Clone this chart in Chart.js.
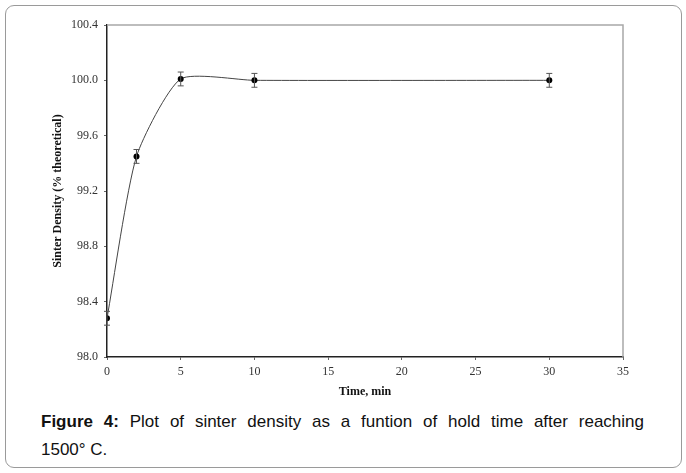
<!DOCTYPE html>
<html>
<head>
<meta charset="utf-8">
<script src="https://cdn.jsdelivr.net/npm/chart.js@4/dist/chart.umd.min.js"></script>
<style>
  body { margin: 0; background: #fff; width: 686px; height: 473px; overflow: hidden; position: relative; }
  #frame { position: absolute; left: 5px; top: 5px; width: 675px; height: 461px; border: 1px solid #9a9a9a; border-radius: 9px; }
  #wrap { position: absolute; left: 0; top: 0; width: 686px; height: 400px; }
  #caption { position: absolute; left: 41px; top: 408px; width: 603px; font-family: "Liberation Sans", Arial, sans-serif; font-size: 17px; line-height: 28px; color: #111; }
  #caption .l1 { text-align: justify; text-align-last: justify; }
</style>
</head>
<body>
<div id="frame"></div>
<div id="wrap"><canvas id="chart"></canvas></div>
<div id="caption">
  <div class="l1"><b>Figure 4:</b> Plot of sinter density as a funtion of hold time after reaching</div>
  <div>1500&deg; C.</div>
</div>
<script>
const holdTimes = [0, 2, 5, 10, 30];
const densities = [98.28, 99.45, 100.01, 100.0, 100.0];
const densityErrors = [0.05, 0.05, 0.05, 0.05, 0.05];
const yTicks = [98.0, 98.4, 98.8, 99.2, 99.6, 100.0, 100.4];

const serif = '"Liberation Serif", "Times New Roman", serif';

// error bars and the light top/right frame of the plot
const extras = {
    id: 'extras',
    afterDatasetsDraw(chart) {
        const ctx = chart.ctx;
        const x = chart.scales.x;
        const y = chart.scales.y;
        const area = chart.chartArea;
        ctx.save();
        ctx.strokeStyle = '#a8a8a8';
        ctx.lineWidth = 1.5;
        ctx.beginPath();
        ctx.moveTo(area.left, area.top);
        ctx.lineTo(area.right, area.top);
        ctx.lineTo(area.right, area.bottom);
        ctx.stroke();

        ctx.strokeStyle = '#555';
        ctx.lineWidth = 1;
        holdTimes.forEach((t, i) => {
            const px = x.getPixelForValue(t);
            const hi = y.getPixelForValue(densities[i] + densityErrors[i]);
            const lo = y.getPixelForValue(densities[i] - densityErrors[i]);
            ctx.beginPath();
            ctx.moveTo(px, hi); ctx.lineTo(px, lo);
            ctx.moveTo(px - 3, hi); ctx.lineTo(px + 3, hi);
            ctx.moveTo(px - 3, lo); ctx.lineTo(px + 3, lo);
            ctx.stroke();
        });
        ctx.restore();
    }
};

new Chart(document.getElementById('chart'), {
    type: 'line',
    data: {
        datasets: [{
            data: holdTimes.map((t, i) => ({ x: t, y: densities[i] })),
            borderColor: '#444',
            borderWidth: 1,
            tension: 0.2,
            pointRadius: 3,
            pointBackgroundColor: '#000',
            pointBorderColor: '#000',
            pointBorderWidth: 0,
            fill: false
        }]
    },
    options: {
        responsive: true,
        maintainAspectRatio: false,
        animation: false,
        layout: { padding: { left: 5, right: 63, top: 25, bottom: 0 } },
        plugins: { legend: { display: false }, tooltip: { enabled: false } },
        scales: {
            x: {
                type: 'linear',
                min: 0,
                max: 35,
                afterFit: s => { s.height = 43; },
                ticks: { stepSize: 5, padding: 5, color: '#333', font: { family: serif, size: 12 } },
                grid: { drawOnChartArea: false, drawTicks: true, tickLength: 3, color: '#666' },
                border: { display: true, color: '#222', width: 1.5 },
                title: { display: true, text: 'Time, min', color: '#111', padding: { top: 0, bottom: 1 }, font: { family: serif, size: 12, weight: 'bold' } }
            },
            y: {
                min: 98.0,
                max: 100.4,
                afterFit: s => { s.width = 102; },
                afterBuildTicks: s => { s.ticks = yTicks.map(v => ({ value: v })); },
                ticks: { padding: 6, color: '#333', font: { family: serif, size: 12 }, callback: v => v.toFixed(1) },
                grid: { drawOnChartArea: false, drawTicks: true, tickLength: 3, color: '#666' },
                border: { display: true, color: '#222', width: 1.5 },
                title: { display: true, text: 'Sinter Density (% theoretical)', color: '#111', padding: { top: 46 }, font: { family: serif, size: 12, weight: 'bold' } }
            }
        }
    },
    plugins: [extras]
});
</script>
</body>
</html>
